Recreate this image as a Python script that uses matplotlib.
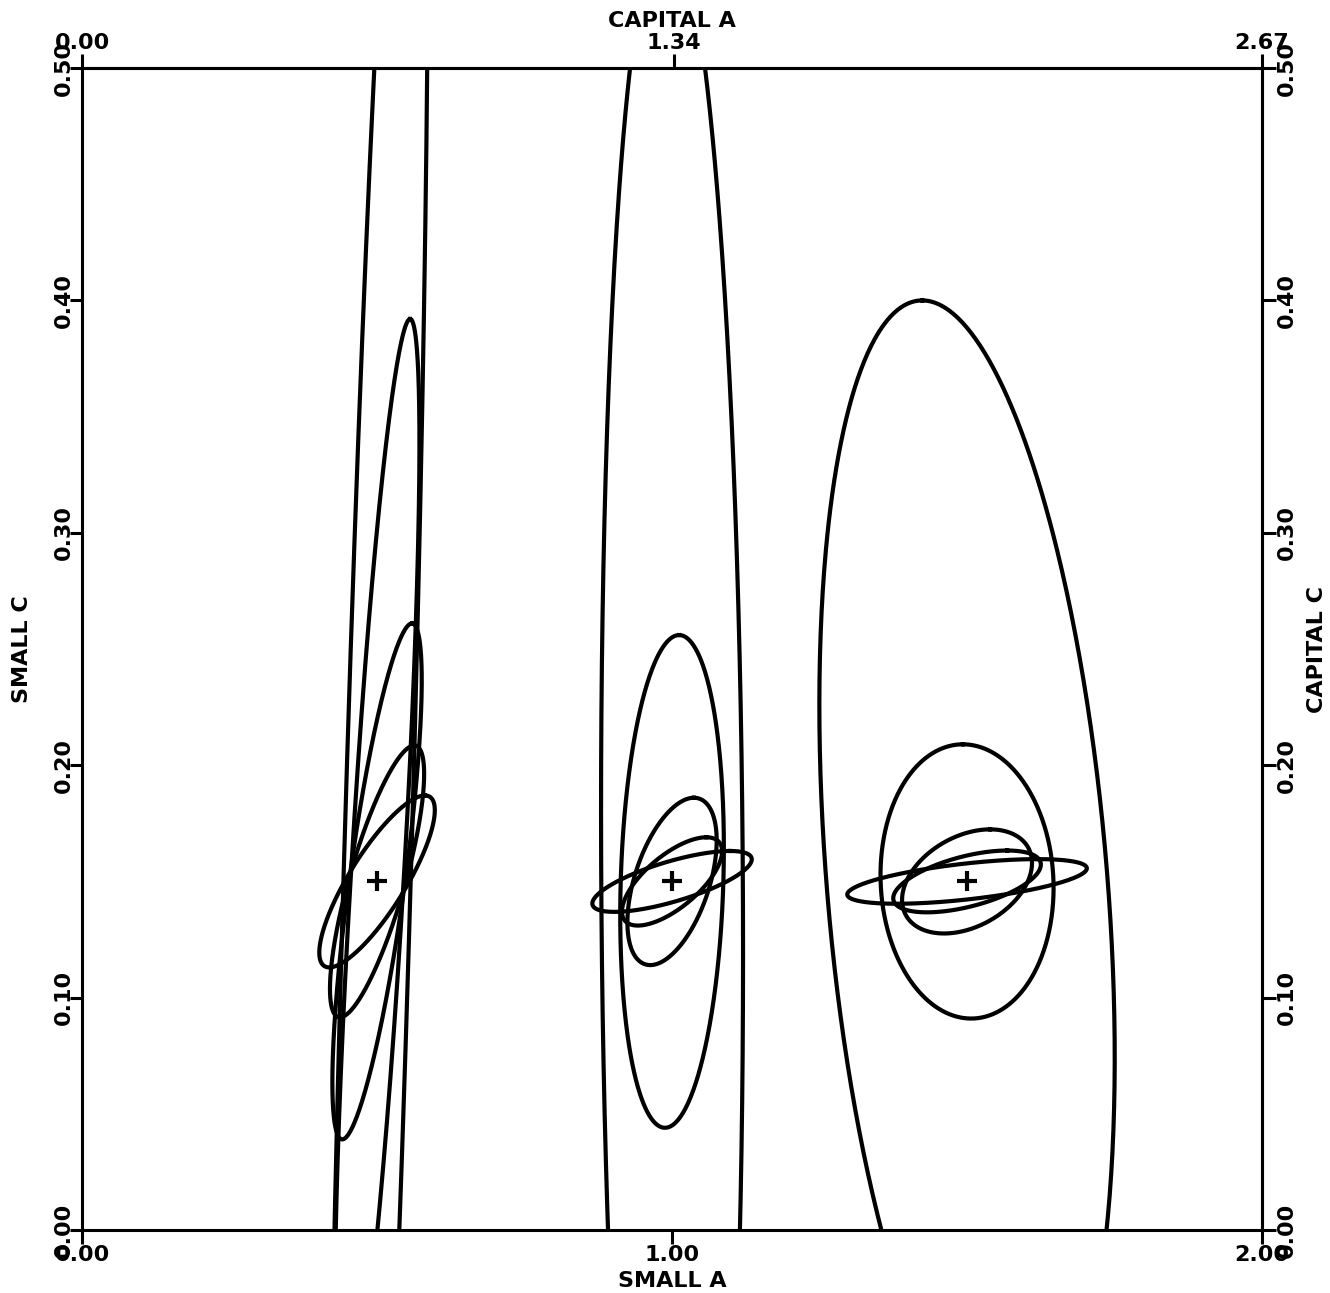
import numpy as np
import matplotlib
matplotlib.use("Agg")
import matplotlib.pyplot as plt

# ellipse centres (small a, small c), one per group
centre_a = [0.50, 1.00, 1.50]
centre_c = [0.15, 0.15, 0.15]

# ellipse shape per group:
#   x = a0 + dx_top*cos(t) + half_w*sin(t),  y = c0 + half_h*cos(t)
# dx_top = a-offset of the topmost point, half_w = half chord at the centre, half_h = half height
g1_dx_top = [0.065, 0.056, 0.059, 0.063, 0.081]
g1_half_w = [0.057, 0.045, 0.0475, 0.049, 0.055]
g1_half_h = [0.566, 0.242, 0.111, 0.0585, 0.037]

g2_dx_top = [-0.009, 0.012, 0.037, 0.058, 0.098]
g2_half_w = [0.120, 0.087, 0.066, 0.062, 0.093]
g2_half_h = [0.4125, 0.106, 0.036, 0.019, 0.0131]

g3_dx_top = [-0.076, -0.007, 0.039, 0.068, 0.119]
g3_half_w = [0.2385, 0.1465, 0.103, 0.105, 0.1645]
g3_half_h = [0.250, 0.059, 0.0224, 0.0133, 0.0096]

small_a_ticks = [0.0, 1.0, 2.0]
small_c_ticks = [0.0, 0.1, 0.2, 0.3, 0.4, 0.5]
capital_a_ticks = [0.00, 1.34, 2.67]
capital_a_max = 2.67

plt.rcParams["font.family"] = "DejaVu Sans"
plt.rcParams["font.weight"] = "bold"

fig = plt.figure(figsize=(13.3, 12.93), dpi=100)
ax = fig.add_axes([0.0617, 0.0487, 0.8872, 0.8987])

t = np.linspace(0, 2 * np.pi, 600)
groups = [
    (g1_dx_top, g1_half_w, g1_half_h),
    (g2_dx_top, g2_half_w, g2_half_h),
    (g3_dx_top, g3_half_w, g3_half_h),
]
for (a0, c0), (dxs, ws, hs) in zip(zip(centre_a, centre_c), groups):
    for dx, w, h in zip(dxs, ws, hs):
        x = a0 + dx * np.cos(t) + w * np.sin(t)
        y = c0 + h * np.cos(t)
        ax.plot(x, y, color="black", lw=3.0, solid_joinstyle="round")
    ax.plot(a0, c0, marker="+", ms=15, mew=3.0, color="black")

ax.set_xlim(0, 2)
ax.set_ylim(0, 0.5)

lab_kw = dict(fontsize=16, fontweight="bold")
tick_kw = dict(direction="out", length=10, width=2.2, pad=1, labelsize=16)

ax.set_xticks(small_a_ticks, [f"{v:.2f}" for v in small_a_ticks])
ax.set_yticks(small_c_ticks, [f"{v:.2f}" for v in small_c_ticks])
ax.tick_params(axis="both", **tick_kw)
ax.tick_params(axis="y", labelrotation=90, pad=-3, length=9)
for lbl in ax.get_yticklabels():
    lbl.set_va("center")
ax.set_xlabel("SMALL A", labelpad=4, **lab_kw)
ax.set_ylabel("SMALL C", labelpad=16, **lab_kw)

scale = capital_a_max / 2.0
top = ax.secondary_xaxis("top", functions=(lambda v: v * scale, lambda v: v / scale))
top.set_xticks(capital_a_ticks, [f"{v:.2f}" for v in capital_a_ticks])
top.tick_params(**tick_kw)
top.set_xlabel("CAPITAL A", labelpad=4, **lab_kw)

right = ax.secondary_yaxis("right")
right.set_yticks(small_c_ticks, [f"{v:.2f}" for v in small_c_ticks])
right.tick_params(**tick_kw)
right.tick_params(axis="y", labelrotation=90)
for lbl in right.get_yticklabels():
    lbl.set_va("center")
right.set_ylabel("CAPITAL C", labelpad=7, rotation=90, **lab_kw)

for sp in list(ax.spines.values()) + list(top.spines.values()) + list(right.spines.values()):
    sp.set_linewidth(2.2)

fig.savefig("out.png", dpi=100, facecolor="white")
